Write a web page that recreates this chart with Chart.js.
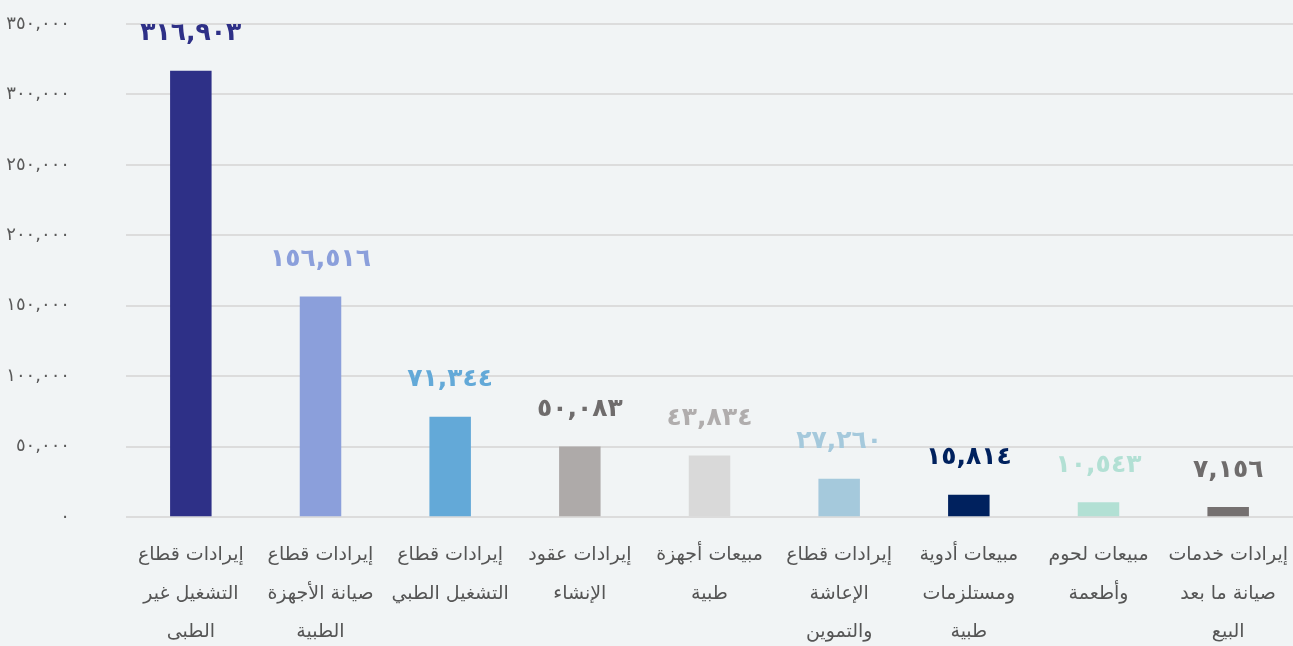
<!DOCTYPE html>
<html>
<head>
<meta charset="utf-8">
<script src="https://cdn.jsdelivr.net/npm/chart.js@4"></script>
<style>
  html, body { margin: 0; padding: 0; background: #f1f4f5; overflow: hidden; }
  #wrap { position: relative; width: 1293px; height: 662px; }
</style>
</head>
<body>
<div id="wrap"><canvas id="myChart"></canvas></div>
<script>
const categories = [
    ["إيرادات قطاع", "التشغيل غير", "الطبى"],
    ["إيرادات قطاع", "صيانة الأجهزة", "الطبية"],
    ["إيرادات قطاع", "التشغيل الطبي"],
    ["إيرادات عقود", "الإنشاء"],
    ["مبيعات أجهزة", "طبية"],
    ["إيرادات قطاع", "الإعاشة", "والتموين"],
    ["مبيعات أدوية", "ومستلزمات", "طبية"],
    ["مبيعات لحوم", "وأطعمة"],
    ["إيرادات خدمات", "صيانة ما بعد", "البيع"]
];
const revenues = [316903, 156516, 71344, 50083, 43834, 27260, 15814, 10543, 7156];
const barColors = ['#2e3087', '#8b9fdb', '#63a9d8', '#aeaaa9', '#d9d9d9', '#a5c9dc', '#00215e', '#b2e0d4', '#757070'];
const labelColors = ['#2e3087', '#8b9fdb', '#63a9d8', '#6f6c6c', '#b0adad', '#a5c9dc', '#00215e', '#b2e0d4', '#6f6c6c'];
const yTicks = [0, 50000, 100000, 150000, 200000, 250000, 300000, 350000];

// ارقام عربية مع فاصلة عادية
function arabicNum(n) {
    const digits = '٠١٢٣٤٥٦٧٨٩';
    return n.toLocaleString('en-US').replace(/[0-9]/g, d => digits[d]);
}

const valueLabels = {
    id: 'valueLabels',
    afterDatasetsDraw(chart) {
        const ctx = chart.ctx;
        const meta = chart.getDatasetMeta(0);
        ctx.save();
        ctx.font = 'bold 25px "DejaVu Sans"';
        ctx.textAlign = 'center';
        ctx.textBaseline = 'middle';
        meta.data.forEach((bar, i) => {
            ctx.fillStyle = labelColors[i];
            ctx.fillText(arabicNum(revenues[i]), bar.x, bar.y - 37);
        });
        ctx.restore();
    }
};

document.addEventListener("DOMContentLoaded", () => {
    const ctx = document.getElementById('myChart').getContext('2d');

    new Chart(ctx, {
        type: 'bar',
        data: {
            labels: categories,
            datasets: [{
                data: revenues,
                backgroundColor: barColors,
                borderWidth: 0,
                barPercentage: 0.64,
                categoryPercentage: 0.5
            }]
        },
        options: {
            responsive: true,
            maintainAspectRatio: false,
            animation: false,
            layout: { padding: { top: 24, right: 0, left: 0, bottom: 0 } },
            plugins: {
                legend: { display: false },
                tooltip: { enabled: false }
            },
            scales: {
                x: {
                    afterFit: (scale) => {
                        scale.paddingLeft = 0;
                        scale.paddingRight = 0;
                    },
                    grid: { display: false },
                    border: { display: false },
                    ticks: {
                        color: '#555555',
                        font: { family: 'DejaVu Sans', size: 19, lineHeight: 2.05 },
                        padding: 10,
                        maxRotation: 0,
                        autoSkip: false
                    }
                },
                y: {
                    min: 0,
                    max: 350000,
                    afterFit: (scale) => {
                        scale.width = 126;
                        // tick padding should only push labels left, not down
                        scale.paddingTop = 11;
                        scale.paddingBottom = 11;
                    },
                    afterBuildTicks: (scale) => { scale.ticks = yTicks.map(v => ({ value: v })); },
                    grid: { color: '#dcdcdc', lineWidth: 2, drawTicks: false },
                    border: { display: false },
                    ticks: {
                        color: '#595959',
                        font: { family: 'DejaVu Sans', size: 18 },
                        padding: 56,
                        callback: (v) => arabicNum(v)
                    }
                }
            }
        },
        plugins: [valueLabels]
    });
});
</script>
</body>
</html>
